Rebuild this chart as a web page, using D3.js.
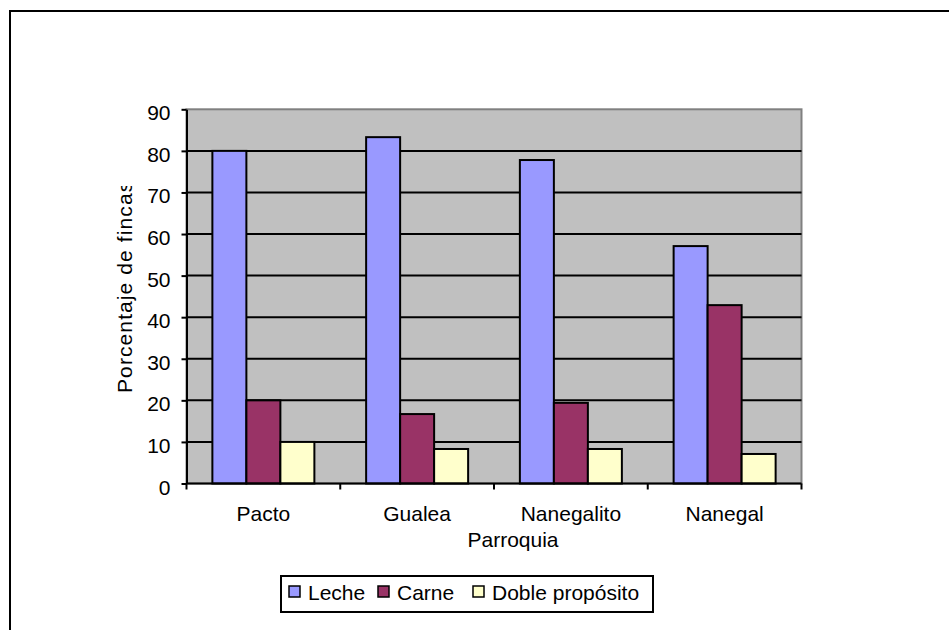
<!DOCTYPE html>
<html>
<head>
<meta charset="utf-8">
<script src="https://cdn.jsdelivr.net/npm/d3@7"></script>
<style>
  html, body { margin: 0; padding: 0; background: #fff; }
  svg { display: block; font-family: "Liberation Sans", Arial, sans-serif; }
</style>
</head>
<body>
<svg id="chart" width="949" height="630"></svg>
<script>
const categories = ["Pacto", "Gualea", "Nanegalito", "Nanegal"];
const seriesNames = ["Leche", "Carne", "Doble propósito"];
const leche = [80, 83.3, 77.8, 57.1];
const carne = [20, 16.7, 19.4, 42.9];
const doble = [10, 8.3, 8.3, 7.1];
const yTicks = [0, 10, 20, 30, 40, 50, 60, 70, 80, 90];
const colors = ["#9999FF", "#993366", "#FFFFCC"];
const yLabel = "Porcentaje de fincas";
const xLabel = "Parroquia";

const seriesValues = [leche, carne, doble];

const svg = d3.select("#chart");
const fs = 21;

// outer frame
svg.append("rect").attr("x", 10).attr("y", 11).attr("width", 960).attr("height", 640)
  .attr("fill", "#fff").attr("stroke", "#000").attr("stroke-width", 2);

const pLeft = 186.5, pRight = 801.5, pTop = 109.3, pBottom = 483.5;

const x0 = d3.scaleBand().domain(categories).range([pLeft, pRight]).padding(0);
const gap = 51.75;
const x1 = d3.scaleBand().domain(seriesNames).range([gap / 2, x0.bandwidth() - gap / 2]).padding(0);
const y = d3.scaleLinear().domain([0, 90]).range([pBottom, pTop]);

// plot background
svg.append("rect").attr("x", pLeft).attr("y", pTop).attr("width", pRight - pLeft).attr("height", pBottom - pTop)
  .attr("fill", "#C0C0C0").attr("stroke", "#808080").attr("stroke-width", 2);

// gridlines
svg.append("g").selectAll("line").data(yTicks.filter(d => d > 0 && d < 90)).join("line")
  .attr("x1", pLeft).attr("x2", pRight)
  .attr("y1", d => y(d)).attr("y2", d => y(d))
  .attr("stroke", "#000").attr("stroke-width", 2);

// bars
const groups = svg.append("g").selectAll("g").data(categories).join("g")
  .attr("transform", d => `translate(${x0(d)},0)`);
groups.selectAll("rect").data((c, i) => seriesNames.map((s, k) => ({ s, k, v: seriesValues[k][i] }))).join("rect")
  .attr("x", d => x1(d.s))
  .attr("width", x1.bandwidth())
  .attr("y", d => y(d.v))
  .attr("height", d => y(0) - y(d.v))
  .attr("fill", d => colors[d.k])
  .attr("stroke", "#000").attr("stroke-width", 2);

// y axis
const yAxis = d3.axisLeft(y).tickValues(yTicks).tickSize(5).tickPadding(11).tickSizeOuter(0);
const ya = svg.append("g").attr("transform", `translate(${pLeft},0)`).call(yAxis);
ya.select(".domain").attr("stroke", "#000").attr("stroke-width", 2);
ya.selectAll(".tick line").attr("stroke", "#000").attr("stroke-width", 2);
ya.selectAll(".tick text").attr("font-size", fs).attr("font-family", "Liberation Sans, Arial, sans-serif")
  .attr("fill", "#000").attr("dy", "0.5em");

// x axis
const xTicksScale = d3.scaleLinear().domain([0, 4]).range([pLeft, pRight]);
const xa = svg.append("g").attr("transform", `translate(0,${pBottom})`);
xa.append("line").attr("x1", pLeft).attr("x2", pRight).attr("stroke", "#000").attr("stroke-width", 2);
xa.selectAll(".tk").data([0, 1, 2, 3, 4]).join("line").attr("class", "tk")
  .attr("x1", d => xTicksScale(d)).attr("x2", d => xTicksScale(d))
  .attr("y1", 0).attr("y2", 6).attr("stroke", "#000").attr("stroke-width", 2);
xa.selectAll(".lb").data(categories).join("text").attr("class", "lb")
  .attr("x", d => x0(d) + x0.bandwidth() / 2).attr("y", 37.5)
  .attr("text-anchor", "middle").attr("font-size", fs).attr("fill", "#000").text(d => d);

// x label
svg.append("text").attr("x", 513).attr("y", 547).attr("text-anchor", "middle")
  .attr("font-size", fs).attr("fill", "#000").text(xLabel);

// y label (clipped at top like reference)
svg.append("clipPath").attr("id", "ylc").append("rect").attr("x", 90).attr("y", 186).attr("width", 60).attr("height", 300);
svg.append("g").attr("clip-path", "url(#ylc)")
  .append("text").attr("transform", "translate(131.5,393) rotate(-90)")
  .attr("font-size", fs).attr("letter-spacing", "1.1px").attr("fill", "#000").text(yLabel);

// legend
const lg = svg.append("g");
lg.append("rect").attr("x", 281).attr("y", 576).attr("width", 372).attr("height", 36)
  .attr("fill", "#fff").attr("stroke", "#000").attr("stroke-width", 2);
const legX = [289, 378, 473];
seriesNames.forEach((s, k) => {
  lg.append("rect").attr("x", legX[k]).attr("y", 586).attr("width", 11).attr("height", 11)
    .attr("fill", colors[k]).attr("stroke", "#000").attr("stroke-width", 1.5);
  lg.append("text").attr("x", legX[k] + 19).attr("y", 600).attr("font-size", fs).attr("fill", "#000").text(s);
});
</script>
</body>
</html>
